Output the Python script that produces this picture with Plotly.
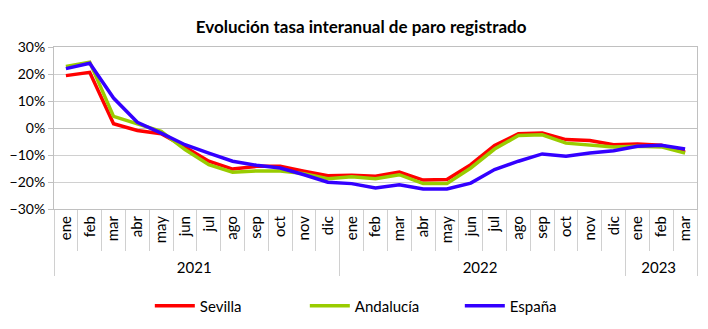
import plotly.graph_objects as go

months = ["ene", "feb", "mar", "abr", "may", "jun", "jul", "ago", "sep", "oct", "nov", "dic",
          "ene", "feb", "mar", "abr", "may", "jun", "jul", "ago", "sep", "oct", "nov", "dic",
          "ene", "feb", "mar"]
years = ["2021"] * 12 + ["2022"] * 12 + ["2023"] * 3

sevilla = [19.4, 20.6, 1.6, -0.9, -2.1, -7.0, -12.3, -15.2, -14.2, -14.2, -16.0, -17.7,
           -17.5, -17.9, -16.3, -19.3, -19.1, -13.6, -6.5, -2.1, -1.9, -4.3, -4.6, -6.2,
           -5.9, -6.4, -9.0]
andalucia = [22.8, 24.4, 4.3, 1.5, -1.2, -8.0, -13.6, -16.4, -15.9, -15.9, -16.9, -18.8,
             -18.1, -18.8, -17.3, -20.6, -20.6, -14.8, -7.8, -2.8, -2.5, -5.6, -6.2, -7.0,
             -6.8, -7.0, -9.3]
espana = [22.0, 24.0, 11.1, 2.1, -1.9, -6.2, -9.3, -12.3, -13.8, -14.8, -17.3, -20.1,
          -20.6, -22.2, -21.0, -22.6, -22.6, -20.4, -15.4, -12.3, -9.6, -10.5, -9.3, -8.4,
          -6.8, -6.4, -7.8]

series = [("Sevilla", sevilla, "#FF0000"),
          ("Andalucía", andalucia, "#99CC00"),
          ("España", espana, "#3300FF")]

font_family = "Lato, Open Sans, sans-serif"
fig = go.Figure()
for name, vals, color in series:
    fig.add_trace(go.Scatter(
        x=[years, months], y=[v / 100 for v in vals], name=name, mode="lines",
        line=dict(color=color, width=3.5),
    ))

fig.update_layout(
    width=708, height=329,
    margin=dict(l=50, r=10, t=47, b=120),
    paper_bgcolor="white", plot_bgcolor="white",
    font=dict(family=font_family, size=14, color="black"),
    title=dict(text="<b>Evolución tasa interanual de paro registrado</b>",
               x=0.51, xanchor="center", y=0.918, yanchor="middle",
               font=dict(size=17, family=font_family, color="black")),
    showlegend=True,
    legend=dict(orientation="h", xref="container", yref="container",
                x=0.54, xanchor="center", y=0.07, yanchor="middle",
                font=dict(size=15), entrywidth=100, entrywidthmode="pixels",
                itemwidth=40),
)
fig.update_yaxes(range=[-0.3, 0.3], dtick=0.1, tickformat=".0%",
                 showgrid=True, gridcolor="#D0D0D0", gridwidth=1,
                 zeroline=True, zerolinecolor="#C0C0C0", zerolinewidth=1,
                 showline=True, linecolor="#C0C0C0", mirror=True,
                 ticks="outside", ticklen=5, tickcolor="#C0C0C0",
                 tickfont=dict(size=14), fixedrange=True)
fig.update_xaxes(type="multicategory", range=[-0.5, 26.5], tickangle=-90,
                 tickson="boundaries",
                 ticks="outside", ticklen=41, tickcolor="#D0D0D0",
                 showdividers=True, dividercolor="#D0D0D0", dividerwidth=1,
                 showline=True, linecolor="#C0C0C0", mirror=True,
                 showgrid=False, tickfont=dict(size=15), fixedrange=True)

fig.write_html("out.html")
